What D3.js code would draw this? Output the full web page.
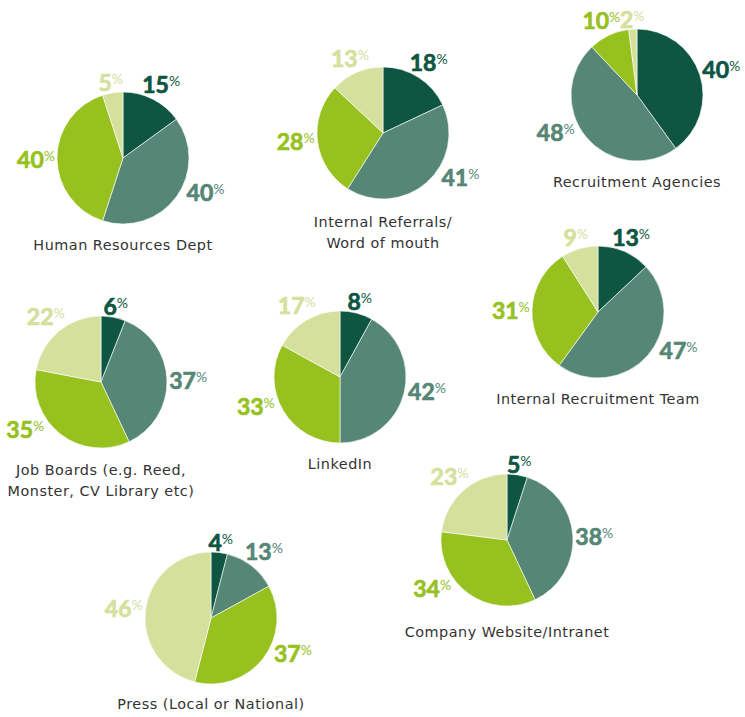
<!DOCTYPE html>
<html>
<head>
<meta charset="utf-8">
<script src="https://cdn.jsdelivr.net/npm/d3@7"></script>
<style>
  html, body { margin: 0; padding: 0; background: #ffffff; }
  svg { display: block; }
</style>
</head>
<body>
<svg id="chart" width="745" height="717"></svg>
<script>
// Recruitment channel split: four answer bands per channel
const bands = ["Band 1", "Band 2", "Band 3", "Band 4"];
const bandColors = ["#0e5642", "#558676", "#96c11f", "#d4e09c"];

const channels = [
  ["Human Resources Dept"],
  ["Internal Referrals/", "Word of mouth"],
  ["Recruitment Agencies"],
  ["Job Boards (e.g. Reed,", "Monster, CV Library etc)"],
  ["LinkedIn"],
  ["Internal Recruitment Team"],
  ["Company Website/Intranet"],
  ["Press (Local or National)"]
];

const hrDept        = [15, 40, 40, 5];
const referrals     = [18, 41, 28, 13];
const agencies      = [40, 48, 10, 2];
const jobBoards     = [6, 37, 35, 22];
const linkedIn      = [8, 42, 33, 17];
const internalTeam  = [13, 47, 31, 9];
const companySite   = [5, 38, 34, 23];
const press         = [4, 13, 37, 46];

const seriesValues = [hrDept, referrals, agencies, jobBoards, linkedIn, internalTeam, companySite, press];

// Placement of each pie on the page
const layout = [
  { cx: 123, cy: 158, labelY: 250 },
  { cx: 383, cy: 133, labelY: 227 },
  { cx: 637, cy: 95,  labelY: 187 },
  { cx: 101, cy: 382, labelY: 475 },
  { cx: 340, cy: 377, labelY: 469 },
  { cx: 598, cy: 312, labelY: 404 },
  { cx: 507, cy: 540, labelY: 637 },
  { cx: 211, cy: 618, labelY: 709 }
];

const radius = 66;
const svg = d3.select("#chart");

const color = d3.scaleOrdinal().domain(bands).range(bandColors);
const pie = d3.pie().sort(null).value(d => d.value);
const arc = d3.arc().innerRadius(0).outerRadius(radius);

// Labels on the lower half are pulled toward the horizontal so they sit beside the pie
function labelAngle(a) {
  const deg = a * 180 / Math.PI;
  let out = deg;
  if (deg > 90 && deg < 180) out = 90 + (deg - 90) * 0.6;
  else if (deg >= 180 && deg < 270) out = 270 - (270 - deg) * 0.6;
  return out * Math.PI / 180;
}

seriesValues.forEach((vals, i) => {
  const pos = layout[i];
  const g = svg.append("g").attr("transform", `translate(${pos.cx},${pos.cy})`);
  const data = vals.map((v, k) => ({ band: bands[k], value: v }));
  const arcs = pie(data);

  g.selectAll("path.slice")
    .data(arcs)
    .join("path")
    .attr("class", "slice")
    .attr("d", arc)
    .attr("fill", d => color(d.data.band))
    .attr("stroke", "#ffffff")
    .attr("stroke-width", 0.6);

  // value labels sit just outside the rim, along each slice's mid-angle
  arcs.forEach(d => {
    const col = color(d.data.band);
    const t = g.append("text")
      .attr("text-anchor", "middle")
      .attr("fill", col)
      .style("font-family", "Lato, 'Open Sans', sans-serif");
    t.append("tspan")
      .style("font-weight", "700")
      .style("font-size", "23px")
      .attr("stroke", col)
      .attr("stroke-width", 0.7)
      .text(d.data.value);
    t.append("tspan")
      .style("font-weight", "400")
      .style("font-size", "14px")
      .attr("dy", "-0.5em")
      .text("%");
    const bb = t.node().getBBox();
    const w = bb.width, h = 17;
    const a = labelAngle((d.startAngle + d.endAngle) / 2);
    const s = Math.sin(a), c = Math.cos(a);
    const dist = radius + 2 + Math.abs(s) * w / 2 + Math.abs(c) * h / 2;
    const x = dist * s, y = -dist * c;
    t.attr("x", x).attr("y", y + 10);
  });

  // channel name under the pie
  const lab = svg.append("text")
    .attr("text-anchor", "middle")
    .attr("fill", "#333333")
    .style("font-family", "'DejaVu Sans', sans-serif")
    .style("font-size", "14.4px")
    .style("letter-spacing", "0.5px");
  channels[i].forEach((line, j) => {
    lab.append("tspan")
      .attr("x", pos.cx)
      .attr("y", pos.labelY + j * 21)
      .text(line);
  });
});
</script>
</body>
</html>
